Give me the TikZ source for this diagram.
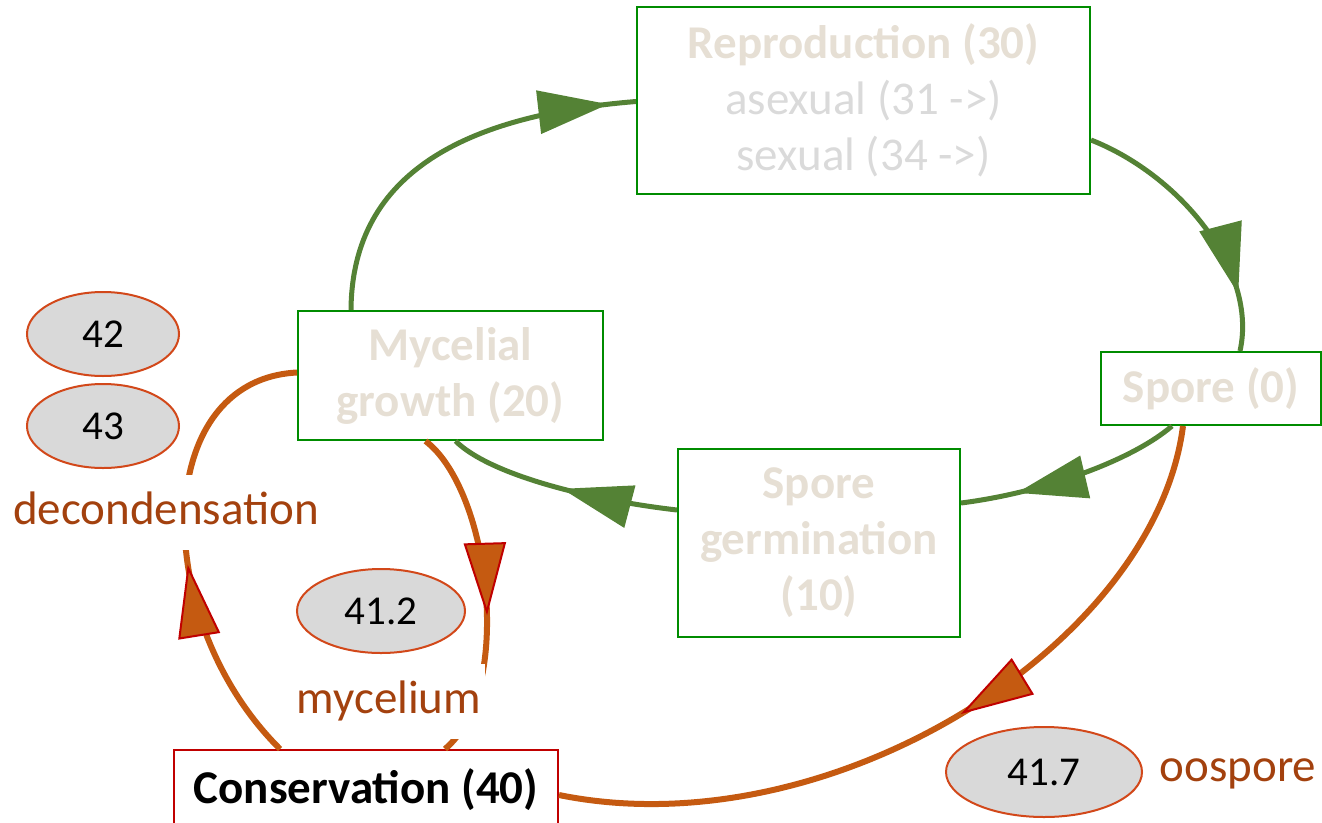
\documentclass[tikz,border=0pt]{standalone}
\usepackage{fontspec}
\setmainfont{Carlito}
\usetikzlibrary{decorations.markings,shapes.geometric}
\definecolor{boxgreen}{RGB}{0,140,0}
\definecolor{arrgreen}{HTML}{548235}
\definecolor{lineor}{HTML}{C55A11}
\definecolor{tipred}{HTML}{C00000}
\definecolor{ellbord}{HTML}{D2481A}
\definecolor{ellfill}{HTML}{D9D9D9}
\definecolor{labtxt}{HTML}{A3410E}
\definecolor{beige}{HTML}{E6DFD4}
\definecolor{lgray}{HTML}{DADADA}
\newcommand\figfont{\fontsize{47pt}{56pt}\selectfont}
\tikzset{
  stagebox/.style={draw=boxgreen, line width=2pt, align=center, inner sep=0pt, font=\figfont\bfseries, text=beige},
  gconn/.style={draw=arrgreen, line width=5pt, postaction={decorate},
    decoration={markings, mark=at position #1 with {\fill[arrgreen] (0pt,0pt) -- (-70pt,22pt) -- (-70pt,-22pt) -- cycle;}}},
  oconn/.style={draw=lineor, line width=6pt, postaction={decorate},
    decoration={markings, mark=at position #1 with {\filldraw[fill=lineor, draw=tipred, line width=2pt, line join=miter] (0pt,0pt) -- (-68pt,20pt) -- (-68pt,-20pt) -- cycle;}}},
  lab/.style={font=\figfont, text=labtxt, fill=white, inner xsep=4pt, inner ysep=16pt, text height=33pt, text depth=10pt, anchor=base},
  ell/.style={ellipse, draw=ellbord, fill=ellfill, line width=2pt, inner sep=0pt, font=\fontsize{41pt}{48pt}\selectfont, text=black}
}
\begin{document}
\begin{tikzpicture}[x=1pt,y=-1pt]
\useasboundingbox (0,0) rectangle (1322,822);
\clip (0,0) rectangle (1322,822);
% boxes
\node[stagebox, minimum width=453pt, minimum height=187pt] (rep) at (863.5,100)
  {Reproduction (30)\\{\mdseries\color{lgray}asexual (31 ->)}\\{\mdseries\color{lgray}sexual (34 ->)}};
\node[stagebox, minimum width=305pt, minimum height=129pt] (myc) at (450.5,375.5) {Mycelial\\growth (20)};
\node[stagebox, minimum width=220pt, minimum height=73pt] (spore) at (1211,388.5) {Spore (0)};
\node[stagebox, minimum width=282pt, minimum height=188pt] (germ) at (819,543) {Spore\\germination\\(10)};
\node[stagebox, draw=tipred, text=black, minimum width=384pt, minimum height=80pt] (cons) at (366,790) {Conservation (40)};
% green connectors
\draw[gconn=-28pt] ([xshift=54pt]myc.north west) .. controls (352,170) and (470,115) .. ([yshift=-1.5pt]rep.west);
\draw[gconn=-58pt] ([yshift=-40pt]rep.east) .. controls (1180,175) and (1258,270) .. ([xshift=29pt]spore.north);
\draw[gconn=-57pt] ([xshift=-39pt]spore.south) .. controls (1130,462) and (1040,493) .. ([yshift=40pt]germ.east);
\draw[gconn=-118pt] ([yshift=33pt]germ.west) .. controls (590,500) and (490,475) .. ([xshift=5pt]myc.south);
% orange connectors
\draw[oconn=-148pt] ([xshift=-25pt]myc.south) .. controls (490,490) and (515,690) .. ([xshift=79pt]cons.north);
\draw[oconn=206pt] ([xshift=-86pt]cons.north) .. controls (150,620) and (150,380) .. ([yshift=3pt]myc.west);
\draw[oconn=372pt] ([xshift=-28pt]spore.south) .. controls (1155,645) and (830,850) .. ([yshift=-5pt]cons.east);
% labels
\node[lab] (ldec) at (166,524) {decondensation};
\node[lab] (lmyc) at (389,713) {mycelium};
\node[lab, fill=none] (loos) at (1238,781) {oospore};
% ellipses
\node[ell, minimum width=152pt, minimum height=84pt] (e42) at (103,334) {42};
\node[ell, minimum width=152pt, minimum height=84pt] (e43) at (103,426) {43};
\node[ell, minimum width=168pt, minimum height=84pt] (e412) at (381,611) {41.2};
\node[ell, minimum width=196pt, minimum height=90pt] (e417) at (1044,772) {41.7};
\end{tikzpicture}
\end{document}
